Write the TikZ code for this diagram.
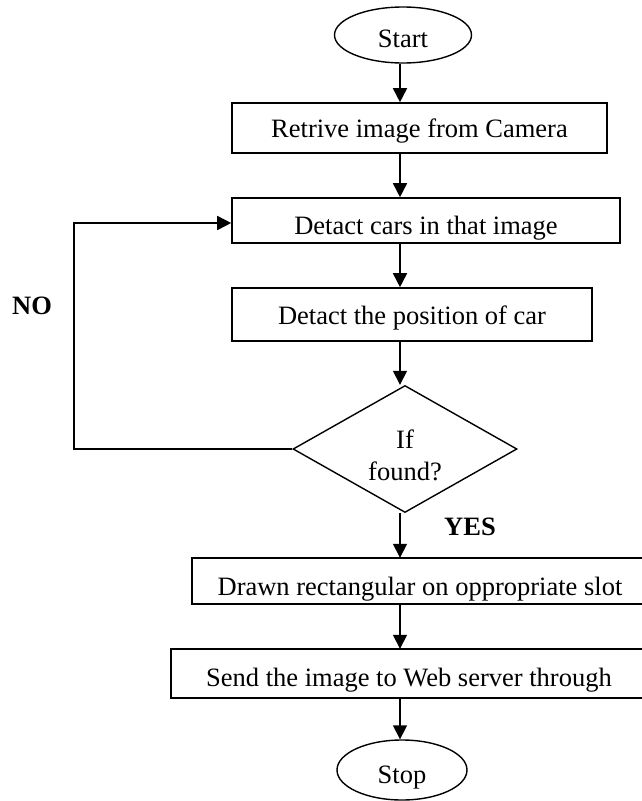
\documentclass[tikz,border=0pt]{standalone}
\usepackage{fontspec}
\setmainfont{Liberation Serif}
\usetikzlibrary{shapes.geometric,arrows.meta}
\begin{document}
\begin{tikzpicture}[x=1pt,y=-1pt,
  every node/.style={font=\fontsize{26.5}{32}\selectfont, inner sep=0pt},
  procbox/.style={draw, line width=1.6pt, rectangle, minimum width=#1},
  openbox/.style={rectangle, minimum width=#1},
  boxline/.style={line width=1.6pt},
  term/.style={draw, line width=1.4pt, ellipse},
  decis/.style={draw, line width=1.4pt, diamond, minimum width=224pt, minimum height=127pt},
  arr/.style={line width=1.6pt, -{Triangle[length=14pt,width=14pt]}},
  lbl/.style={font=\fontsize{26.5}{32}\selectfont\bfseries}
]
\clip (0,0) rectangle (642,801);
\fill[white] (0,0) rectangle (642,801);
\coordinate (ax) at (400,0);
\coordinate (lc) at (74,223);

\node[term, minimum width=137pt, minimum height=56pt, text height=24pt, text depth=0pt] (start) at (403,35) {Start};
\node[procbox=375pt, minimum height=50pt, text height=18pt, text depth=0pt] (retr) at (419.5,128) {Retrive image from Camera};
\node[procbox=388pt, minimum height=45pt, text height=28pt, text depth=0pt] (cars) at (426,220.5) {Detact cars in that image};
\node[procbox=360pt, minimum height=53pt, text height=19pt, text depth=0pt] (pos) at (412,314.5) {Detact the position of car};
\node[decis] (dec) at (405,449) {\raisebox{1pt}[0pt][0pt]{\begin{tabular}[t]{@{}c@{}}If\\found?\end{tabular}}};
\node[openbox=456pt, minimum height=46pt, text height=29pt, text depth=0pt] (drawn) at (420,581) {Drawn rectangular on oppropriate slot};
\draw[boxline] ([xshift=20pt]drawn.north east) -- (drawn.north west) -- (drawn.south west) -- ([xshift=20pt]drawn.south east);
\node[openbox=476pt, minimum height=49pt, text height=25pt, text depth=0pt] (send) at (409,673.5) {Send the image to Web server through};
\draw[boxline] ([xshift=20pt]send.north east) -- (send.north west) -- (send.south west) -- ([xshift=20pt]send.south east);
\node[term, minimum width=130pt, minimum height=60pt, text height=26pt, text depth=0pt] (stop) at (402,770) {Stop};

\node[lbl] (no) at (32,306) {NO};
\node[lbl] (yes) at (470,527) {YES};

\draw[arr] (start.south -| ax) -- (retr.north -| ax);
\draw[arr] (retr.south -| ax) -- (cars.north -| ax);
\draw[arr] (cars.south -| ax) -- (pos.north -| ax);
\draw[arr] (pos.south -| ax) -- (dec.north -| ax);
\draw[arr] (dec.south -| ax) -- (drawn.north -| ax);
\draw[arr] (drawn.south -| ax) -- (send.north -| ax);
\draw[arr] (send.south -| ax) -- (stop.north -| ax);
\draw[arr] (dec.west) -| (lc) -- (lc -| cars.west);
\end{tikzpicture}
\end{document}
